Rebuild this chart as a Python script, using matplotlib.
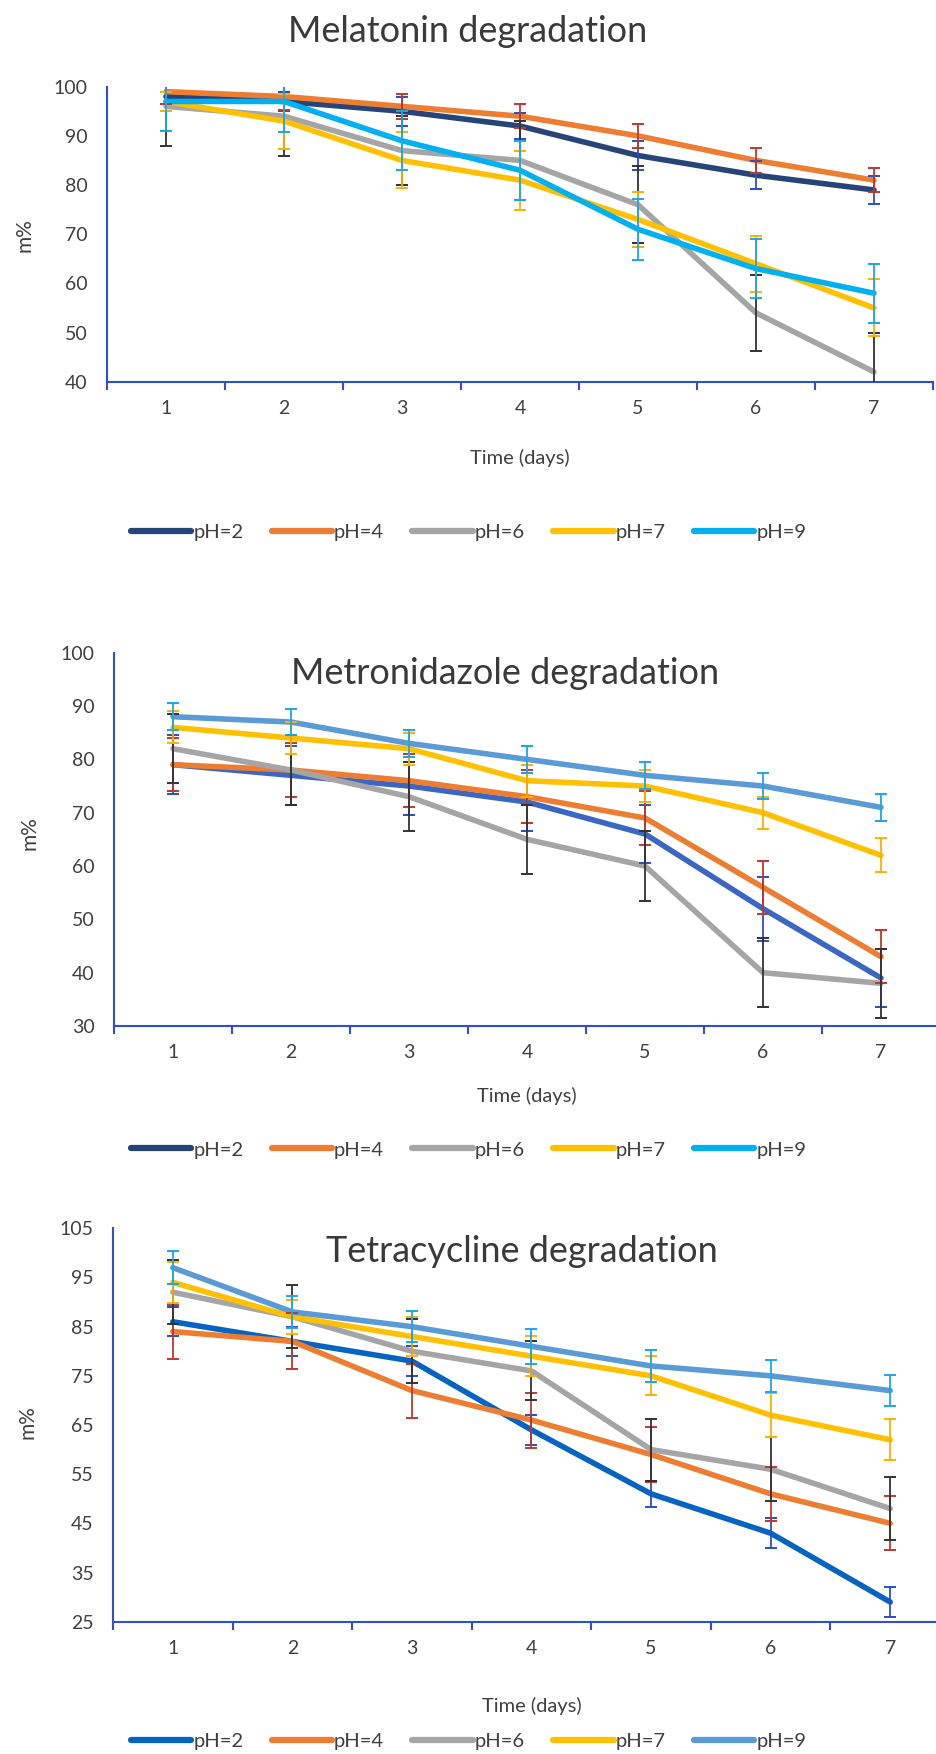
import matplotlib
matplotlib.use("Agg")
import matplotlib.pyplot as plt
from matplotlib.lines import Line2D

plt.rcParams['font.family'] = ['Lato', 'DejaVu Sans']

# data
days = [1, 2, 3, 4, 5, 6, 7]
labels = ["pH=2", "pH=4", "pH=6", "pH=7", "pH=9"]

mel_ph2 = [98, 97, 95, 92, 86, 82, 79]
mel_ph4 = [99, 98, 96, 94, 90, 85, 81]
mel_ph6 = [96, 94, 87, 85, 76, 54, 42]
mel_ph7 = [97, 93, 85, 81, 73, 64, 55]
mel_ph9 = [97, 97, 89, 83, 71, 63, 58]
mel_err2 = [3, 2, 3, 2.7, 3, 2.8, 2.8]
mel_err4 = [2.5, 2.7, 2.5, 2.5, 2.5, 2.5, 2.5]
mel_err6 = [8, 8, 7, 8, 7.8, 7.8, 8]
mel_err7 = [2, 5.6, 5.7, 6, 5.6, 5.7, 5.8]
mel_err9 = [6, 6.3, 6, 6, 6.2, 6, 6]

met_ph2 = [79, 77, 75, 72, 66, 52, 39]
met_ph4 = [79, 78, 76, 73, 69, 56, 43]
met_ph6 = [82, 78, 73, 65, 60, 40, 38]
met_ph7 = [86, 84, 82, 76, 75, 70, 62]
met_ph9 = [88, 87, 83, 80, 77, 75, 71]
met_err2 = [5.5, 5.5, 5.5, 5.5, 5.5, 6, 5.5]
met_err4 = [5, 5, 5, 5, 5, 5, 5]
met_err6 = [6.5, 6.5, 6.5, 6.5, 6.5, 6.5, 6.5]
met_err7 = [3, 3, 3, 3, 3, 3, 3.2]
met_err9 = [2.5, 2.5, 2.5, 2.5, 2.5, 2.5, 2.5]

tet_ph2 = [86, 82, 78, 64, 51, 43, 29]
tet_ph4 = [84, 82, 72, 66, 59, 51, 45]
tet_ph6 = [92, 87, 80, 76, 60, 56, 48]
tet_ph7 = [94, 87, 83, 79, 75, 67, 62]
tet_ph9 = [97, 88, 85, 81, 77, 75, 72]
tet_err2 = [3, 3, 3, 3, 2.7, 3, 3]
tet_err4 = [5.5, 5.7, 5.5, 5.6, 5.6, 5.5, 5.5]
tet_err6 = [6.5, 6.4, 6.5, 6, 6.3, 6.5, 6.4]
tet_err7 = [4.2, 3.4, 4, 4, 4, 4.5, 4.2]
tet_err9 = [3.3, 3.2, 3.2, 3.5, 3.2, 3.2, 3.2]

W, H = 937, 1754
AXIS = '#2F4FCF'
TXT = '#404040'
err_cols = ['#2750C8', '#C0392B', '#333333', '#FFB000', '#1AA7EC']


def box(left, top, right, bottom):
    return [left / W, 1 - bottom / H, (right - left) / W, (bottom - top) / H]


panels = [
    dict(title="Melatonin degradation", title_xy=(468, 31),
         rect=box(107, 86.7, 933, 381.7), ylim=(40, 100), yticks=range(40, 101, 10),
         series=[mel_ph2, mel_ph4, mel_ph6, mel_ph7, mel_ph9],
         errs=[mel_err2, mel_err4, mel_err6, mel_err7, mel_err9],
         colors=['#264478', '#ED7D31', '#A5A5A5', '#FFC000', '#00B0F0'],
         leg_colors=['#264478', '#ED7D31', '#A5A5A5', '#FFC000', '#00B0F0'],
         ylab_xy=(25, 235), xlab_y=458, leg_y=532),
    dict(title="Metronidazole degradation", title_xy=(505, 674),
         rect=box(114, 652.7, 940, 1026), ylim=(30, 100), yticks=range(30, 101, 10),
         series=[met_ph2, met_ph4, met_ph6, met_ph7, met_ph9],
         errs=[met_err2, met_err4, met_err6, met_err7, met_err9],
         colors=['#3A66C4', '#ED7D31', '#A5A5A5', '#FFC000', '#5B9BD5'],
         leg_colors=['#264478', '#ED7D31', '#A5A5A5', '#FFC000', '#00B0F0'],
         ylab_xy=(30, 833), xlab_y=1096, leg_y=1150),
    dict(title="Tetracycline degradation", title_xy=(522, 1251),
         rect=box(113, 1228.3, 950, 1621.7), ylim=(25, 105), yticks=range(25, 106, 10),
         series=[tet_ph2, tet_ph4, tet_ph6, tet_ph7, tet_ph9],
         errs=[tet_err2, tet_err4, tet_err6, tet_err7, tet_err9],
         colors=['#0563C1', '#ED7D31', '#A5A5A5', '#FFC000', '#5B9BD5'],
         leg_colors=['#0563C1', '#ED7D31', '#A5A5A5', '#FFC000', '#5B9BD5'],
         ylab_xy=(28, 1422), xlab_y=1706, leg_y=1741),
]

fig = plt.figure(figsize=(W / 100, H / 100), dpi=100)

for p in panels:
    ax = fig.add_axes(p['rect'])
    for vals, err, c, ec in zip(p['series'], p['errs'], p['colors'], err_cols):
        ax.plot(days, vals, color=c, lw=4, solid_capstyle='round', zorder=2)
        ax.errorbar(days, vals, yerr=err, fmt='none', ecolor=ec, elinewidth=1.3,
                    capsize=4.5, capthick=1.4, zorder=3)
    ax.set_xlim(0.5, 7.5)
    ax.set_ylim(*p['ylim'])
    ax.set_yticks(list(p['yticks']))
    ax.set_xticks(days)
    ax.set_xticks([d + 0.5 for d in range(0, 8)], minor=True)
    ax.tick_params(axis='x', which='major', length=0, pad=13, labelsize=14, labelcolor=TXT)
    ax.tick_params(axis='x', which='minor', length=6, width=1.5, color=AXIS, direction='out')
    ax.tick_params(axis='y', length=0, pad=14, labelsize=14, labelcolor=TXT)
    for s in ['top', 'right']:
        ax.spines[s].set_visible(False)
    for s in ['left', 'bottom']:
        ax.spines[s].set_color(AXIS)
        ax.spines[s].set_linewidth(1.5)

    fig.text(p['title_xy'][0] / W, 1 - p['title_xy'][1] / H, p['title'],
             ha='center', va='center', fontsize=26, color='#3A3A3A')
    fig.text(p['ylab_xy'][0] / W, 1 - p['ylab_xy'][1] / H, "m%", rotation=90,
             ha='center', va='center', fontsize=15, color=TXT)
    fig.text(p['rect'][0] + p['rect'][2] / 2, 1 - p['xlab_y'] / H, "Time (days)",
             ha='center', va='center', fontsize=14.5, color=TXT)

    handles = [Line2D([0], [0], color=c, lw=4.5, solid_capstyle='round') for c in p['leg_colors']]
    fig.legend(handles, labels, loc='center', bbox_to_anchor=(0.5, 1 - p['leg_y'] / H),
               ncol=5, frameon=False, fontsize=14.5, handlelength=3.0, handletextpad=0.1,
               columnspacing=1.4, labelcolor=TXT)

fig.savefig("out.png", dpi=100)
